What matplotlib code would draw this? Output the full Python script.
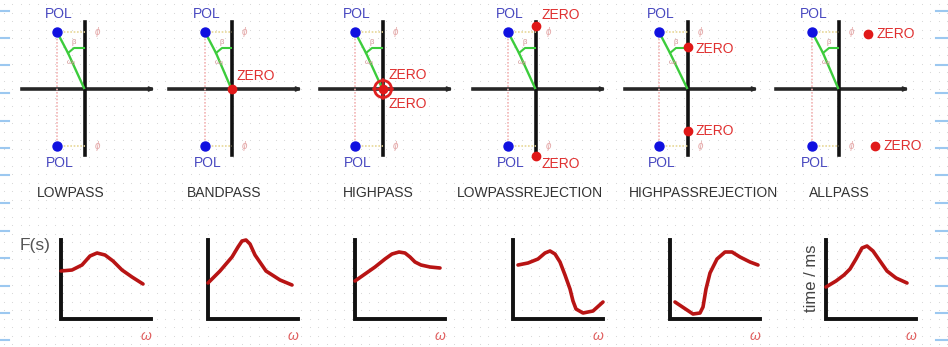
#!/usr/bin/env python3
"""Pole/zero sketches of six filter types with their response curves below."""

import matplotlib

matplotlib.use("Agg")
import matplotlib.pyplot as plt  # noqa: E402
import numpy as np  # noqa: E402

plt.rcParams["font.family"] = ["Liberation Sans", "DejaVu Sans"]

# ---- top row: pole/zero planes (pixel layout of the sketch) ----
NAMES = ["LOWPASS", "BANDPASS", "HIGHPASS", "LOWPASSREJECTION", "HIGHPASSREJECTION", "ALLPASS"]
NAME_X = [71, 224, 378, 530, 704, 839]
AXIS_X = [85, 232, 383, 536, 688, 839]
POLE_X = [57, 205, 355, 508, 659, 812]
POLE_Y = [32, 146]
ZEROS = [[], [(232, 89)], [(383, 89)], [(536, 26), (536, 156)],
         [(688, 47), (688, 131)], [(868, 34), (875, 146)]]
ZERO_LABELS = [[], [(237, 76)], [(389, 75), (389, 104)], [(542, 15), (542, 164)],
               [(696, 49), (696, 131)], [(877, 34), (884, 146)]]

# ---- bottom row: response curves (x right of axis, y above baseline, px) ----
CURVE_X0 = [61, 208, 355, 513, 670, 826]
CURVES = [
    ([0, 11, 21, 29, 36, 44, 52, 61, 71, 82],
     [48, 49, 54, 63, 66, 64, 58, 49, 42, 35]),
    ([0, 12, 24, 30, 34, 38, 42, 47, 58, 72, 84],
     [36, 48, 62, 72, 78, 79, 75, 64, 48, 39, 34]),
    ([0, 10, 20, 30, 37, 44, 50, 55, 60, 66, 75, 85],
     [38, 45, 52, 60, 65, 67, 66, 62, 57, 54, 52, 51]),
    ([5, 15, 25, 32, 37, 42, 47, 52, 57, 60, 63, 70, 80, 90],
     [54, 56, 60, 66, 68, 65, 57, 44, 30, 18, 10, 6, 8, 17]),
    ([5, 14, 23, 30, 33, 36, 40, 47, 55, 62, 70, 80, 88],
     [17, 11, 5, 6, 12, 30, 46, 60, 67, 67, 62, 57, 54]),
    ([0, 10, 18, 24, 30, 36, 41, 47, 54, 61, 70, 81],
     [32, 38, 44, 50, 60, 71, 73, 68, 58, 48, 41, 36]),
]
EDGE_TICKS = [11, 38, 65, 93, 121, 148, 175, 203, 231, 258, 286, 313, 340]

W, H = 948, 347
AX_Y, BASE, TOP = 89, 319, 240

fig = plt.figure(figsize=(W / 100, H / 100), dpi=100)
ax = fig.add_axes([0, 0, 1, 1])
ax.set_xlim(0, W)
ax.set_ylim(H, 0)
ax.axis("off")

# dotted paper background
gx, gy = np.meshgrid(np.arange(4, W, 8.5), np.arange(4, H, 8.5))
ax.scatter(gx.ravel(), gy.ravel(), s=0.6, color="#d4d4d4", lw=0, zorder=0)

# light blue margin marks
for y in EDGE_TICKS:
    ax.plot([0, 9], [y, y], color="#9cc8f0", lw=1.5, zorder=1)
    ax.plot([936, W], [y, y], color="#9cc8f0", lw=1.5, zorder=1)

for i, name in enumerate(NAMES):
    vx, px = AXIS_X[i], POLE_X[i]
    # axes of the s-plane
    ax.plot([vx - 63, vx + 66], [AX_Y, AX_Y], color="#262626", lw=2.6, zorder=2)
    ax.annotate("", xy=(vx + 72, AX_Y), xytext=(vx + 60, AX_Y),
                arrowprops=dict(arrowstyle="-|>", color="#262626", lw=1.2,
                                mutation_scale=7), zorder=2)
    ax.plot([vx, vx], [22, 155], color="#111111", lw=2.6, zorder=2)
    # pole helpers
    ax.plot([px, px], POLE_Y, color="#f2b4b4", lw=1.2, ls=(0, (1, 1)), zorder=2)
    for py in POLE_Y:
        ax.plot([px, vx], [py, py], color="#e8d898", lw=1.2, ls=(0, (1, 1)), zorder=2)
        ax.text(vx + 12, py, "ϕ", color="#e4a8a8", fontsize=7, style="italic",
                ha="center", va="center", zorder=3)
    ax.plot([px, px + 11, vx - 1], [POLE_Y[0], 53, AX_Y - 1], color="#3ccc3c", lw=1.7, zorder=3)
    ax.plot([px + 11, px + 17, vx - 1], [53, 48, 48], color="#3ccc3c", lw=1.5, zorder=3)
    ax.text(px + 17, 42, "β", color="#d09090", fontsize=5.5, ha="center", va="center", zorder=3)
    ax.text(px + 14, 62, "ω₀", color="#d09090", fontsize=5.5, ha="center", va="center", zorder=3)
    ax.scatter([px, px], POLE_Y, s=42, color="#1010e0", zorder=4)
    ax.text(px + 2, 14, "POL", color="#4848c0", fontsize=10, ha="center", va="center", zorder=4)
    ax.text(px + 3, 163, "POL", color="#4848c0", fontsize=10, ha="center", va="center", zorder=4)
    # zeros
    for zx, zy in ZEROS[i]:
        if i == 2:
            ax.scatter([zx], [zy], s=150, facecolor="none", edgecolor="#e02020", lw=2, zorder=5)
            ax.plot([zx - 10, zx + 10], [zy, zy], color="#e02020", lw=1.2, zorder=5)
            ax.plot([zx, zx], [zy - 10, zy + 10], color="#e02020", lw=1.2, zorder=5)
        ax.scatter([zx], [zy], s=36, color="#e01818", zorder=5)
    for lx, ly in ZERO_LABELS[i]:
        ax.text(lx, ly, "ZERO", color="#e03030", fontsize=10, ha="left", va="center", zorder=5)
    ax.text(NAME_X[i], 193, name, color="#333333", fontsize=10, ha="center", va="center", zorder=4)

    # response curve
    x0 = CURVE_X0[i]
    ax.plot([x0, x0, x0 + 90], [TOP, BASE, BASE], color="#111111", lw=2.8,
            solid_joinstyle="miter", zorder=2)
    cx, cy = CURVES[i]
    ax.plot([x0 + v for v in cx], [BASE - v for v in cy], color="#b81414", lw=2.6,
            solid_capstyle="round", solid_joinstyle="round", zorder=3)
    ax.text(x0 + 85, 336, "ω", color="#e06060", fontsize=10, style="italic",
            ha="center", va="center", zorder=3)

ax.text(35, 245, "F(s)", color="#555555", fontsize=12.5, ha="center", va="center")
ax.text(812, 278, "time / ms", color="#444444", fontsize=12, rotation=90,
        ha="center", va="center")

fig.savefig("out.png", dpi=100)
